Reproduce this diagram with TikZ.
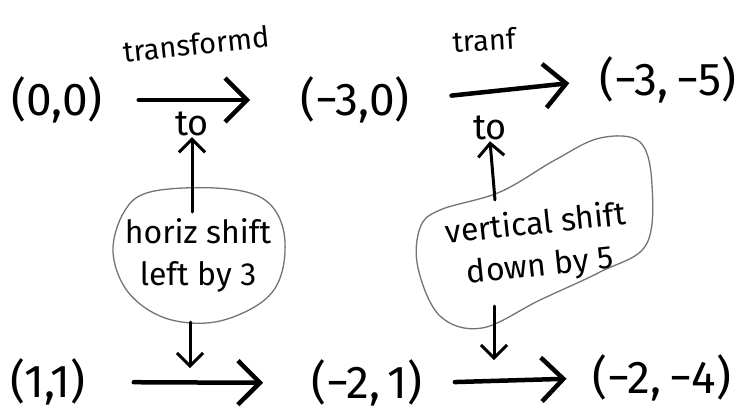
\documentclass[tikz,border=0pt]{standalone}
\usepackage{fontspec}
\setmainfont{Fira Sans}
\usetikzlibrary{arrows.meta}
\begin{document}
\begin{tikzpicture}[x=1pt,y=-1pt,
  pt/.style={font=\fontsize{46}{46}\selectfont, inner sep=0pt},
  lbl/.style={font=\fontsize{29}{29}\selectfont, inner sep=1pt},
  tolbl/.style={font=\fontsize{36}{36}\selectfont, inner sep=1pt},
  note/.style={font=\fontsize{32}{42}\selectfont, align=center, inner sep=0pt},
  arr/.style={line width=4.5pt, line cap=round,
    -{Straight Barb[length=22pt,width=44pt,line width=4.5pt]}},
  tick/.style={line width=3pt, line cap=round,
    -{Straight Barb[length=13pt,width=26pt,line width=3pt]}},
  blob/.style={draw=black!55, line width=1.3pt}]
\useasboundingbox (0,0) rectangle (756,418);

% points
\node[pt] (p00) at (57,100) {(0,0)};
\node[pt] (p30) at (355,100) {(−3,0)};
\node[pt] (p35) at (668,80) {(−3,\,−5)};
\node[pt] (p11) at (48,382) {(1,1)};
\node[pt] (p21) at (367,383) {(−2,\,1)};
\node[pt] (p24) at (662,378) {(−2,\,−4)};

% transformation arrows
\draw[arr, shorten <=36pt, shorten >=50pt] (p00.east) -- (p30.west);
\draw[arr, shorten <=42pt, shorten >=30pt] (p30.east) -- (p35.west);
\draw[arr, shorten <=48pt, shorten >=48pt] (p11.east) -- (p21.west);
\draw[arr, shorten <=32pt, shorten >=26pt] (p21.east) -- (p24.west);

% arrow labels
\node[lbl, rotate=6] (t1) at (196,44) {transformd};
\node[lbl, rotate=3] (t2) at (484,40) {tranf};
\node[tolbl] (to1) at (192,124) {to};
\node[tolbl] (to2) at (490,128) {to};

% explanation bubbles
\draw[blob] plot[smooth cycle, tension=0.6] coordinates {
  (150,192) (215,188) (262,198) (283,228) (282,272) (262,302)
  (215,322) (165,318) (128,292) (113,252) (124,212)};
\node[note] (hnote) at (198,255) {horiz shift\\left by 3};

\draw[blob] plot[smooth cycle, tension=0.6] coordinates {
  (440,210) (500,192) (555,160) (600,138) (640,142) (652,185)
  (646,245) (600,272) (540,300) (482,328) (440,316) (418,268) (420,228)};
\node[note, rotate=6] (vnote) at (538,246) {vertical shift\\down by 5};

% pointers from the bubbles
\coordinate (hbot) at (190,368);
\coordinate (vbot) at (494,360);
\coordinate (vtop) at (495,200);
\draw[tick] (to1.south |- 0,212) -- (to1.south);
\draw[tick] (hbot |- 0,322) -- (hbot);
\draw[tick] (vtop) -- (to2.south);
\draw[tick] (vbot |- 0,306) -- (vbot);
\end{tikzpicture}
\end{document}
